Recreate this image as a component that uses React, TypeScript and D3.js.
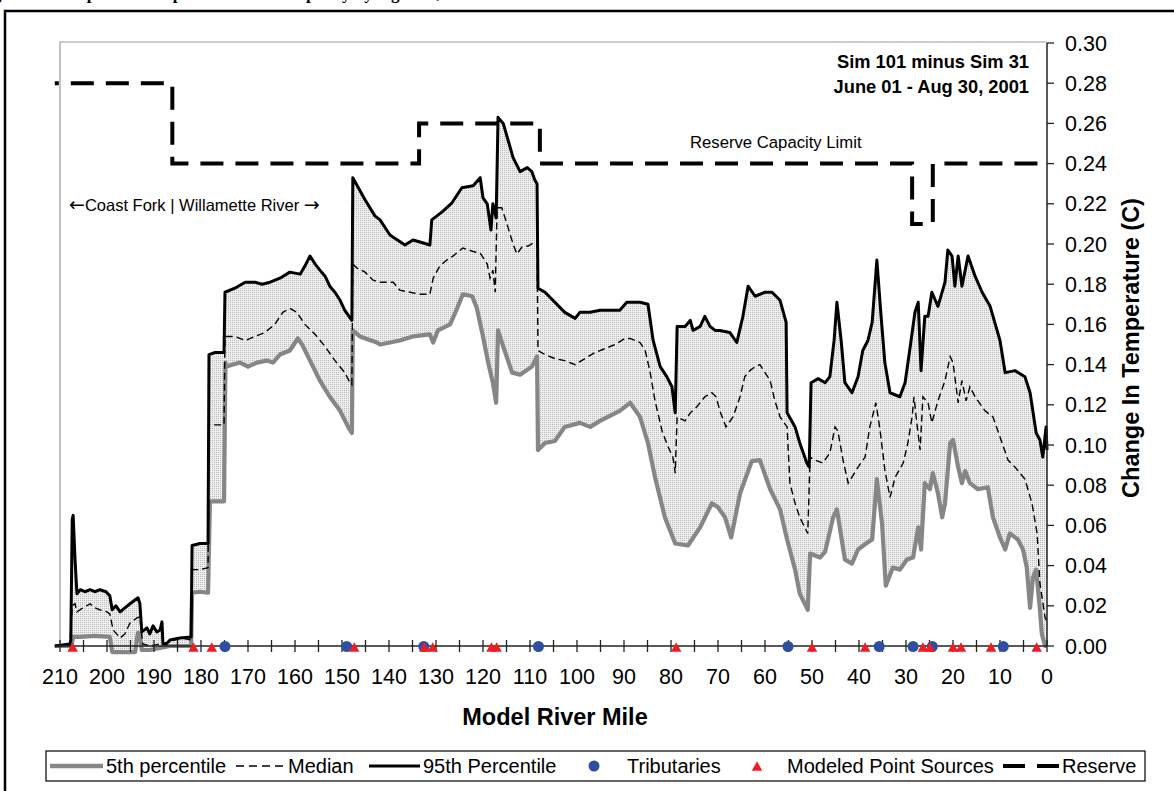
import React from "react";
import * as d3 from "d3";

type Pt = [number, number];

// 95th percentile change in temperature (river mile, deg C)
const p95: Pt[] = [
  [211.1,0],[207.9,0.001],[207.7,0.003],[207.4,0.063],[207.2,0.065],[206.8,0.043],[206.4,0.026],[205.7,0.028],[204.7,0.027],[203.6,0.028],[202.6,0.027],[201.5,0.028],[200.2,0.027],[199.4,0.025],[198.9,0.018],[198.1,0.020],[197.2,0.017],[196.2,0.019],[195.1,0.021],[194.0,0.023],[193.4,0.024],[193.0,0.021],[192.6,0.007],[191.5,0.009],[190.9,0.006],[190.2,0.010],[189.4,0.007],[188.7,0.008],[188.3,0.012],[188.1,0.001],[187.4,0.001],[186.6,0.003],[184.5,0.004],[182.1,0.0045],[181.9,0.050],[180.2,0.051],[178.5,0.051],[178.3,0.145],[177.0,0.146],[175.1,0.146],[174.9,0.176],[172.8,0.178],[170.6,0.181],[168.5,0.181],[167.0,0.180],[165.3,0.181],[163.2,0.183],[161.1,0.186],[158.9,0.185],[157.9,0.189],[156.8,0.194],[155.7,0.190],[154.7,0.187],[153.6,0.184],[152.6,0.179],[151.5,0.176],[150.4,0.172],[149.4,0.167],[147.9,0.162],[147.7,0.233],[145.1,0.222],[143.0,0.214],[141.9,0.212],[139.8,0.2045],[136.6,0.1995],[134.9,0.202],[133.4,0.201],[131.3,0.1995],[130.9,0.212],[128.7,0.216],[126.6,0.2205],[124.5,0.228],[122.1,0.229],[120.6,0.233],[120.0,0.223],[119.1,0.220],[118.3,0.207],[117.9,0.220],[117.2,0.213],[116.8,0.263],[115.7,0.260],[114.7,0.252],[113.6,0.243],[112.1,0.236],[110.6,0.238],[109.6,0.236],[109.0,0.232],[108.5,0.230],[108.3,0.178],[106.8,0.176],[104.7,0.171],[102.6,0.166],[100.4,0.163],[99.4,0.166],[97.2,0.166],[95.1,0.167],[93.0,0.167],[90.9,0.167],[89.4,0.171],[86.6,0.171],[84.9,0.170],[83.8,0.152],[82.3,0.139],[80.9,0.134],[79.8,0.129],[79.1,0.116],[78.7,0.159],[77.0,0.159],[75.9,0.162],[75.3,0.157],[73.8,0.159],[72.8,0.164],[71.7,0.159],[70.6,0.157],[69.6,0.157],[67.5,0.156],[66.0,0.151],[64.7,0.164],[63.6,0.179],[62.1,0.174],[60.0,0.176],[58.5,0.176],[56.8,0.172],[55.5,0.161],[55.3,0.116],[53.6,0.109],[52.6,0.101],[51.1,0.091],[50.6,0.089],[50.2,0.131],[48.7,0.133],[47.2,0.131],[46.2,0.134],[45.3,0.152],[44.7,0.171],[43.8,0.152],[43.0,0.131],[41.5,0.126],[40.2,0.134],[39.2,0.147],[38.1,0.152],[37.2,0.161],[36.2,0.192],[35.3,0.164],[34.5,0.141],[33.4,0.126],[31.3,0.124],[30.2,0.131],[29.1,0.149],[28.1,0.166],[27.4,0.171],[26.8,0.137],[26.0,0.164],[25.3,0.164],[24.5,0.176],[23.2,0.169],[21.7,0.181],[21.1,0.197],[20.2,0.194],[19.6,0.179],[18.9,0.194],[18.1,0.179],[17.4,0.187],[16.8,0.194],[15.3,0.184],[13.8,0.176],[12.1,0.169],[10.0,0.152],[8.9,0.136],[6.8,0.137],[4.7,0.134],[3.6,0.126],[2.3,0.106],[1.5,0.1025],[0.9,0.094],[0.2,0.109],[0.0,0.0975]
];

// Median
const median: Pt[] = [
  [211.1,0],[207.9,0.0005],[207.4,0.020],[206.8,0.021],[206.4,0.017],[205.1,0.019],[203.6,0.021],[202.6,0.019],[201.5,0.018],[200.0,0.017],[199.4,0.016],[198.7,0.008],[197.2,0.004],[196.2,0.006],[195.1,0.0115],[193.6,0.014],[193.0,0.0145],[192.4,0.001],[190.9,0.0],[186.6,0.002],[184.5,0.004],[182.1,0.003],[181.9,0.038],[180.2,0.038],[178.5,0.039],[178.3,0.110],[175.1,0.110],[174.9,0.154],[172.8,0.154],[170.6,0.152],[168.5,0.154],[166.4,0.156],[164.3,0.160],[162.6,0.166],[161.1,0.168],[159.6,0.166],[157.9,0.160],[155.7,0.155],[153.6,0.149],[151.5,0.142],[149.4,0.136],[148.3,0.131],[147.9,0.130],[147.7,0.190],[146.8,0.188],[145.1,0.186],[143.4,0.182],[141.9,0.181],[139.1,0.181],[137.7,0.177],[135.5,0.176],[133.4,0.175],[131.3,0.175],[130.6,0.183],[129.2,0.189],[127.7,0.192],[126.4,0.194],[124.3,0.198],[121.7,0.196],[120.6,0.1955],[119.1,0.190],[118.5,0.183],[117.9,0.187],[117.4,0.176],[117.0,0.218],[116.0,0.218],[114.9,0.210],[113.6,0.200],[112.8,0.195],[111.7,0.1985],[110.4,0.199],[109.0,0.201],[108.5,0.201],[108.3,0.147],[106.8,0.145],[104.7,0.143],[102.6,0.142],[100.4,0.140],[98.3,0.143],[96.2,0.146],[94.0,0.148],[91.9,0.150],[89.8,0.153],[88.7,0.153],[86.6,0.151],[85.5,0.147],[84.5,0.137],[83.4,0.122],[81.9,0.107],[80.6,0.099],[79.6,0.094],[79.1,0.086],[78.7,0.114],[77.0,0.112],[75.9,0.116],[74.5,0.119],[72.8,0.124],[71.3,0.126],[70.4,0.124],[69.6,0.117],[68.3,0.109],[66.8,0.114],[65.3,0.124],[64.3,0.134],[63.2,0.137],[62.1,0.139],[61.1,0.140],[58.9,0.132],[57.9,0.122],[56.8,0.114],[55.3,0.109],[54.7,0.081],[53.6,0.071],[52.6,0.064],[50.9,0.056],[50.4,0.094],[49.4,0.0925],[47.7,0.091],[46.2,0.096],[45.1,0.109],[44.5,0.107],[43.4,0.0925],[42.3,0.081],[41.5,0.084],[40.2,0.089],[38.7,0.094],[37.7,0.109],[36.4,0.121],[35.5,0.107],[34.5,0.0875],[33.4,0.074],[32.3,0.084],[30.6,0.091],[29.6,0.101],[28.7,0.114],[28.3,0.124],[27.7,0.111],[27.0,0.0975],[26.4,0.124],[25.3,0.121],[24.5,0.111],[23.2,0.122],[21.7,0.132],[20.6,0.144],[20.0,0.141],[18.9,0.121],[18.1,0.132],[17.2,0.122],[16.4,0.129],[15.3,0.124],[13.2,0.117],[11.5,0.114],[10.0,0.104],[8.3,0.0925],[6.8,0.089],[4.7,0.083],[3.2,0.071],[2.1,0.056],[1.5,0.031],[0.4,0.014],[0.0,0.012]
];

// 5th percentile
const p5: Pt[] = [
  [211.1,0],[207.9,0],[207.4,0.002],[207.2,0.0045],[205.7,0.0045],[202.6,0.005],[199.4,0.0045],[198.9,-0.003],[194.0,-0.003],[193.6,0.004],[193.4,0.0065],[193.0,0.006],[192.6,-0.002],[190.9,-0.002],[186.6,0.0],[182.1,0.0],[181.9,0.0265],[180.2,0.027],[178.5,0.0265],[178.1,0.072],[175.1,0.072],[174.8,0.141],[174.5,0.139],[173.2,0.140],[171.7,0.141],[170.0,0.139],[168.1,0.141],[166.0,0.142],[164.7,0.141],[163.2,0.145],[161.1,0.147],[159.4,0.153],[158.5,0.150],[156.8,0.142],[154.7,0.132],[152.6,0.124],[150.4,0.117],[148.7,0.109],[147.9,0.106],[147.7,0.157],[146.2,0.154],[142.6,0.151],[141.9,0.150],[137.7,0.152],[134.9,0.154],[131.3,0.155],[130.6,0.151],[129.6,0.157],[127.0,0.160],[125.5,0.168],[124.3,0.175],[122.3,0.174],[121.3,0.168],[120.0,0.154],[118.9,0.141],[117.9,0.131],[117.2,0.121],[116.8,0.157],[115.7,0.149],[113.8,0.136],[112.1,0.135],[109.6,0.139],[108.5,0.144],[108.3,0.0975],[106.8,0.101],[104.7,0.102],[102.6,0.109],[99.4,0.111],[97.2,0.109],[95.1,0.112],[90.9,0.117],[88.7,0.121],[86.6,0.114],[84.9,0.101],[83.4,0.084],[81.3,0.064],[79.1,0.051],[76.4,0.050],[73.8,0.059],[71.3,0.071],[70.0,0.069],[68.5,0.064],[67.2,0.054],[65.3,0.076],[62.8,0.092],[61.1,0.0925],[58.9,0.078],[56.8,0.068],[55.3,0.053],[53.6,0.038],[52.6,0.026],[50.9,0.018],[50.4,0.046],[48.3,0.044],[47.2,0.047],[45.5,0.064],[44.7,0.068],[43.0,0.043],[41.5,0.041],[40.2,0.048],[38.5,0.051],[37.2,0.053],[36.2,0.083],[35.1,0.061],[34.3,0.030],[32.8,0.039],[31.3,0.038],[29.8,0.043],[28.5,0.044],[27.4,0.059],[26.8,0.048],[26.0,0.081],[24.9,0.078],[24.3,0.086],[23.2,0.076],[22.3,0.064],[21.7,0.071],[20.6,0.101],[20.0,0.1025],[18.9,0.089],[18.1,0.081],[17.4,0.087],[16.4,0.081],[14.7,0.078],[12.6,0.079],[11.5,0.064],[10.0,0.054],[8.9,0.048],[7.9,0.056],[6.2,0.053],[5.1,0.048],[4.3,0.039],[3.6,0.019],[3.0,0.034],[2.3,0.038],[1.5,0.018],[1.1,0.006],[0.4,0],[0.0,0]
];

// Reserve capacity limit (step changes at these miles)
const reserve: Pt[] = [
  [211.1,0.28],[186.1,0.24],[133.6,0.26],[107.9,0.24],[28.7,0.21],[24.3,0.24],[0,0.24]
];

const tributaries = [174.9, 149.0, 132.6, 108.2, 55.1, 35.7, 28.5, 24.4, 9.3];
const pointSources = [207.3, 181.6, 177.7, 147.4, 132.5, 130.7, 118.2, 117.1, 78.9, 50.0, 38.7, 26.4, 24.9, 20.0, 18.3, 11.9, 2.2];

const xTicks = d3.range(210, -1, -5);
const xLabels = d3.range(210, -1, -10);
const yTicks = d3.range(0, 16).map((i) => i * 0.02);

const FONT = "Arial, 'Liberation Sans', sans-serif";

export default function App() {
  const x = d3.scaleLinear().domain([210, 0]).range([60, 1047]);
  const y = d3.scaleLinear().domain([0, 0.3]).range([646, 43]);
  const line = d3.line<Pt>().x((d) => x(d[0])).y((d) => y(d[1]));
  const stepLine = d3.line<Pt>().x((d) => x(d[0])).y((d) => y(d[1])).curve(d3.curveStepAfter);
  const band = line([...p95, ...p5.slice().reverse()]) + "Z";
  const y0 = y(0);
  const tri = (cx: number, cy: number, w: number, h: number) =>
    `M${cx - w / 2},${cy + h / 2}L${cx},${cy - h / 2}L${cx + w / 2},${cy + h / 2}Z`;

  const legY = 766;
  const legFont = 20;
  return (
    <svg width={1174} height={791} style={{ position: "absolute", left: 0, top: 0, background: "#fff" }} fontFamily={FONT}>
      <defs>
        <pattern id="stip" width={2} height={2} patternUnits="userSpaceOnUse">
          <rect width={2} height={2} fill="#efefef" />
          <rect width={1} height={1} fill="#b8b8b8" />
        </pattern>
      </defs>
      <rect x={0} y={0} width={1174} height={791} fill="#fff" />
      {/* figure caption above the frame, mostly outside the picture */}
      <text x={-22} y={-1} fontFamily="'Liberation Serif', 'Times New Roman', serif" fontWeight="bold" fontSize={17}>
        Figure 38. Temperature impacts of reserve capacity by segment, Willamette River
      </text>
      {/* outer frame */}
      <path d="M5,791 L5,11 L1176,11" fill="none" stroke="#000" strokeWidth={2.5} />

      {/* plot area frame */}
      <path d={`M${x(210)},${y0} L${x(210)},42 L1047,42`} fill="none" stroke="#9a9a9a" strokeWidth={1.2} />

      {/* band between percentiles */}
      <path d={band} fill="url(#stip)" stroke="none" />

      {/* reserve */}
      <path d={stepLine(reserve) || ""} fill="none" stroke="#000" strokeWidth={4} strokeDasharray="23,12" strokeDashoffset={19} />

      {/* 5th percentile */}
      <path d={line(p5) || ""} fill="none" stroke="#868686" strokeWidth={4.2} strokeLinejoin="round" />
      {/* median */}
      <path d={line(median) || ""} fill="none" stroke="#000" strokeWidth={1.4} strokeDasharray="7,4" />
      {/* 95th percentile */}
      <path d={line(p95) || ""} fill="none" stroke="#000" strokeWidth={3} strokeLinejoin="round" />

      {/* x axis */}
      <line x1={x(211.1)} x2={x(0)} y1={y0} y2={y0} stroke="#222" strokeWidth={1.5} />
      {xTicks.map((t) => (
        <line key={"xt" + t} x1={x(t)} x2={x(t)} y1={y0 - 6} y2={y0 + 6} stroke="#222" strokeWidth={1.3} />
      ))}
      {xLabels.map((t) => (
        <text key={"xl" + t} x={x(t)} y={684} fontSize={21.5} textAnchor="middle" fill="#000">
          {t}
        </text>
      ))}
      <text x={555} y={725} fontSize={23.5} fontWeight="bold" textAnchor="middle">
        Model River Mile
      </text>

      {/* y axis (right) */}
      <line x1={1047} x2={1047} y1={y(0.3)} y2={y0} stroke="#222" strokeWidth={1.5} />
      {yTicks.map((t) => (
        <g key={"yt" + t}>
          <line x1={1047} x2={1054} y1={y(t)} y2={y(t)} stroke="#222" strokeWidth={1.3} />
          <text x={1065} y={y(t) + 7.5} fontSize={21.5}>
            {d3.format(".2f")(t)}
          </text>
        </g>
      ))}
      <text
        transform={`translate(1139,348) rotate(-90)`}
        fontSize={23.5}
        fontWeight="bold"
        textAnchor="middle"
      >
        Change In Temperature (C)
      </text>

      {/* markers */}
      {tributaries.map((m, i) => (
        <circle key={"tr" + i} cx={x(m)} cy={y0 + 0.5} r={5.5} fill="#2E4F9F" />
      ))}
      {pointSources.map((m, i) => (
        <path key={"ps" + i} d={tri(x(m), y0 + 1, 10.5, 9.5)} fill="#EE1C24" />
      ))}

      {/* annotations */}
      <text x={1029} y={68} fontSize={18.3} fontWeight="bold" textAnchor="end">
        Sim 101 minus Sim 31
      </text>
      <text x={1029} y={93} fontSize={18.3} fontWeight="bold" textAnchor="end">
        June 01 - Aug 30, 2001
      </text>
      <text x={690} y={148} fontSize={16.7}>
        Reserve Capacity Limit
      </text>
      <text x={69} y={211} fontSize={16.5}>
        <tspan fontFamily="'DejaVu Sans', sans-serif" fontSize={19}>←</tspan>
        <tspan>Coast Fork | Willamette River </tspan>
        <tspan fontFamily="'DejaVu Sans', sans-serif" fontSize={19}>→</tspan>
      </text>

      {/* legend */}
      <rect x={46} y={751} width={1099} height={30} fill="#fff" stroke="#000" strokeWidth={1.2} />
      <line x1={50} x2={103} y1={legY} y2={legY} stroke="#868686" strokeWidth={4.5} />
      <text x={106} y={legY + 7} fontSize={legFont}>5th percentile</text>
      <line x1={236} x2={283} y1={legY} y2={legY} stroke="#000" strokeWidth={1.4} strokeDasharray="8,5" />
      <text x={288} y={legY + 7} fontSize={legFont}>Median</text>
      <line x1={369} x2={420} y1={legY} y2={legY} stroke="#000" strokeWidth={3} />
      <text x={423} y={legY + 7} fontSize={legFont}>95th Percentile</text>
      <circle cx={594} cy={legY} r={5.5} fill="#2E4F9F" />
      <text x={627} y={legY + 7} fontSize={legFont}>Tributaries</text>
      <path d={tri(757, legY, 10.5, 9.5)} fill="#EE1C24" />
      <text x={787} y={legY + 7} fontSize={legFont}>Modeled Point Sources</text>
      <line x1={1003} x2={1060} y1={legY} y2={legY} stroke="#000" strokeWidth={4} strokeDasharray="22,12" />
      <text x={1062} y={legY + 7} fontSize={legFont}>Reserve</text>
    </svg>
  );
}
